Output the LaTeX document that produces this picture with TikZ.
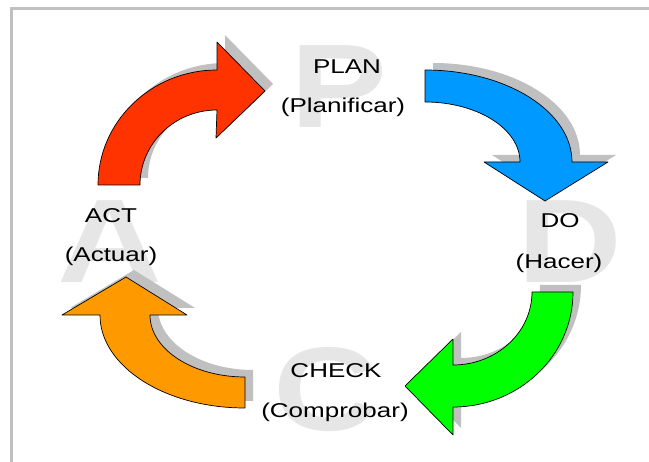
\documentclass[tikz,border=0pt]{standalone}
\usepackage{fontspec}
\usepackage{graphicx}
\setmainfont{Liberation Sans}
\definecolor{redc}{RGB}{255,51,0}
\definecolor{bluec}{RGB}{0,153,255}
\definecolor{greenc}{RGB}{0,255,0}
\definecolor{orangec}{RGB}{255,153,0}
\definecolor{shadowc}{RGB}{192,192,192}
\definecolor{letterc}{RGB}{230,230,230}
\definecolor{framec}{RGB}{192,192,192}
\tikzset{
  bigletter/.style={text=letterc, font=\fontsize{119}{119}\selectfont\bfseries, inner sep=0pt, anchor=base},
  lbl/.style={font=\fontsize{20}{24}\selectfont, inner sep=0pt, anchor=base},
  arrowbody/.style={draw=black, line width=0.7pt, line join=round},
  shadowbody/.style={fill=shadowc},
  redarrow/.pic={\path[pic actions] (98,185) arc[start angle=180,end angle=270,x radius=119,y radius=115]
      -- (217,42) -- (265,91) -- (216,138) -- (217,110)
      arc[start angle=270,end angle=180,x radius=77,y radius=75] -- cycle;},
  bluearrow/.pic={\path[pic actions] (425,70) arc[start angle=270,end angle=360,x radius=147,y radius=92]
      -- (608,162) -- (545,201) -- (484,162) -- (520,162)
      arc[start angle=0,end angle=-90,x radius=95,y radius=60] -- cycle;},
  greenarrow/.pic={\path[pic actions] (573,292) arc[start angle=0,end angle=90,x radius=120,y radius=115]
      -- (453,435) -- (405,386) -- (453,339) -- (453,365)
      arc[start angle=90,end angle=0,x radius=79,y radius=73] -- cycle;},
  orangearrow/.pic={\path[pic actions] (245,408) arc[start angle=90,end angle=180,x radius=145,y radius=93]
      -- (62,315) -- (126,277) -- (187,315) -- (150,315)
      arc[start angle=180,end angle=90,x radius=95,y radius=62] -- cycle;},
}
\begin{document}
\begin{tikzpicture}[x=1pt,y=-1pt]
\useasboundingbox (0,0) rectangle (649,462);
\fill[white] (0,0) rectangle (649,462);
% frame
\fill[framec] (10,7) rectangle (649,10);
\fill[framec] (10,7) rectangle (13,462);
% big letters
\node[bigletter] (bigP) at (339,128) {\scalebox{1.22}[1]{P}};
\node[bigletter] (bigD) at (569.5,283) {\scalebox{1.22}[1]{D}};
\node[bigletter] (bigC) at (326,431) {\scalebox{1.22}[1]{C}};
\node[bigletter] (bigA) at (110,283) {\scalebox{1.22}[1]{A}};
% shadows
\pic[shadowbody] at (8,-7) {redarrow};
\pic[shadowbody] at (8,-7) {bluearrow};
\pic[shadowbody] at (8,-7) {greenarrow};
\pic[shadowbody] at (8,-7) {orangearrow};
% arrows
\pic[arrowbody, fill=redc] {redarrow};
\pic[arrowbody, fill=bluec] {bluearrow};
\pic[arrowbody, fill=greenc] {greenarrow};
\pic[arrowbody, fill=orangec] {orangearrow};
% labels
\node[lbl] (plan) at (347,74) {\scalebox{1.3}[1]{PLAN}};
\node[lbl] (plan2) at (343,113) {\scalebox{1.3}[1]{(Planificar)}};
\node[lbl] (do) at (560,228) {\scalebox{1.3}[1]{DO}};
\node[lbl] (do2) at (559,269) {\scalebox{1.3}[1]{(Hacer)}};
\node[lbl] (check) at (336,378) {\scalebox{1.3}[1]{CHECK}};
\node[lbl] (check2) at (335,418) {\scalebox{1.3}[1]{(Comprobar)}};
\node[lbl] (act) at (111,223) {\scalebox{1.3}[1]{ACT}};
\node[lbl] (act2) at (111,262) {\scalebox{1.3}[1]{(Actuar)}};
\end{tikzpicture}
\end{document}
